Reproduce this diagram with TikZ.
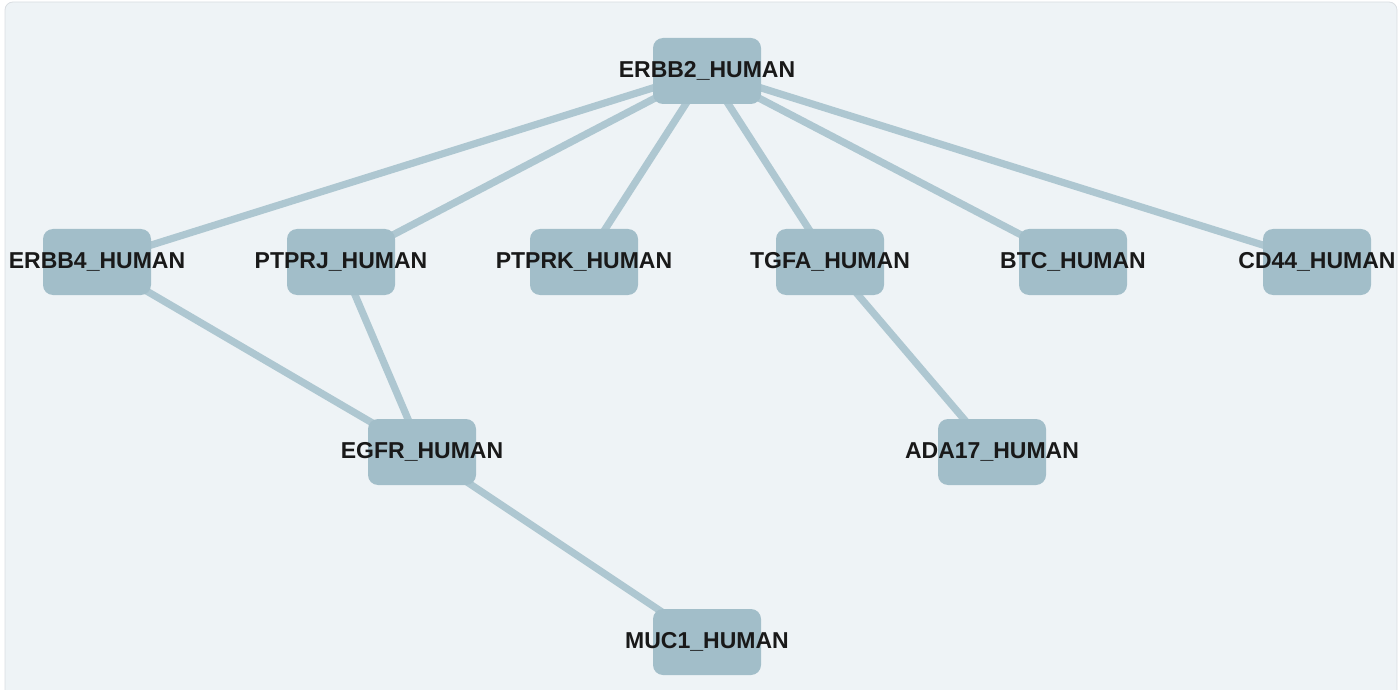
\documentclass[tikz,border=0pt]{standalone}
\usepackage{fontspec}
\setmainfont{Liberation Sans}
\definecolor{panelbg}{HTML}{EEF3F6}
\definecolor{panelline}{HTML}{DADEE2}
\definecolor{protfill}{HTML}{A2BEC9}
\definecolor{linkcol}{HTML}{AEC7D1}
% label may run past the box
\newcommand{\protname}[1]{\makebox[0pt]{#1}}
\pgfdeclarelayer{panel}
\pgfdeclarelayer{links}
\pgfsetlayers{panel,links,main}

\begin{document}
\begin{tikzpicture}[x=0.5pt, y=-0.5pt,
  protein/.style={fill=protfill, rounded corners=5pt, minimum width=54pt, minimum height=33pt, inner sep=0pt, font=\bfseries\fontsize{11.5}{12}\selectfont, text=black!90},
  link/.style={draw=linkcol, line width=3.6pt}]

  \useasboundingbox (0,0) rectangle (1399,690);
  \begin{pgfonlayer}{panel}
    \draw[panelline, fill=panelbg, rounded corners=4pt] (5,2) rectangle (1397,710);
  \end{pgfonlayer}

  \node[protein] (erbb2) at (707, 71) {\protname{ERBB2\_HUMAN}};

  \node[protein] (erbb4) at (97, 262) {\protname{ERBB4\_HUMAN}};
  \node[protein] (ptprj) at (341, 262) {\protname{PTPRJ\_HUMAN}};
  \node[protein] (ptprk) at (584, 262) {\protname{PTPRK\_HUMAN}};
  \node[protein] (tgfa) at (830, 262) {\protname{TGFA\_HUMAN}};
  \node[protein] (btc) at (1073, 262) {\protname{BTC\_HUMAN}};
  \node[protein] (cd44) at (1317, 262) {\protname{CD44\_HUMAN}};

  \node[protein] (egfr) at (422, 452) {\protname{EGFR\_HUMAN}};
  \node[protein] (ada17) at (992, 452) {\protname{ADA17\_HUMAN}};

  \node[protein] (muc1) at (707, 642) {\protname{MUC1\_HUMAN}};

  % links run centre to centre, under the boxes
  \begin{pgfonlayer}{links}
    \foreach \p in {erbb4, ptprj, ptprk, tgfa, btc, cd44}
      \draw[link] (erbb2.center) -- (\p.center);
    \draw[link] (erbb4.center) -- (egfr.center);
    \draw[link] (ptprj.center) -- (egfr.center);
    \draw[link] (tgfa.center) -- (ada17.center);
    \draw[link] (egfr.center) -- (muc1.center);
  \end{pgfonlayer}

\end{tikzpicture}
\end{document}
